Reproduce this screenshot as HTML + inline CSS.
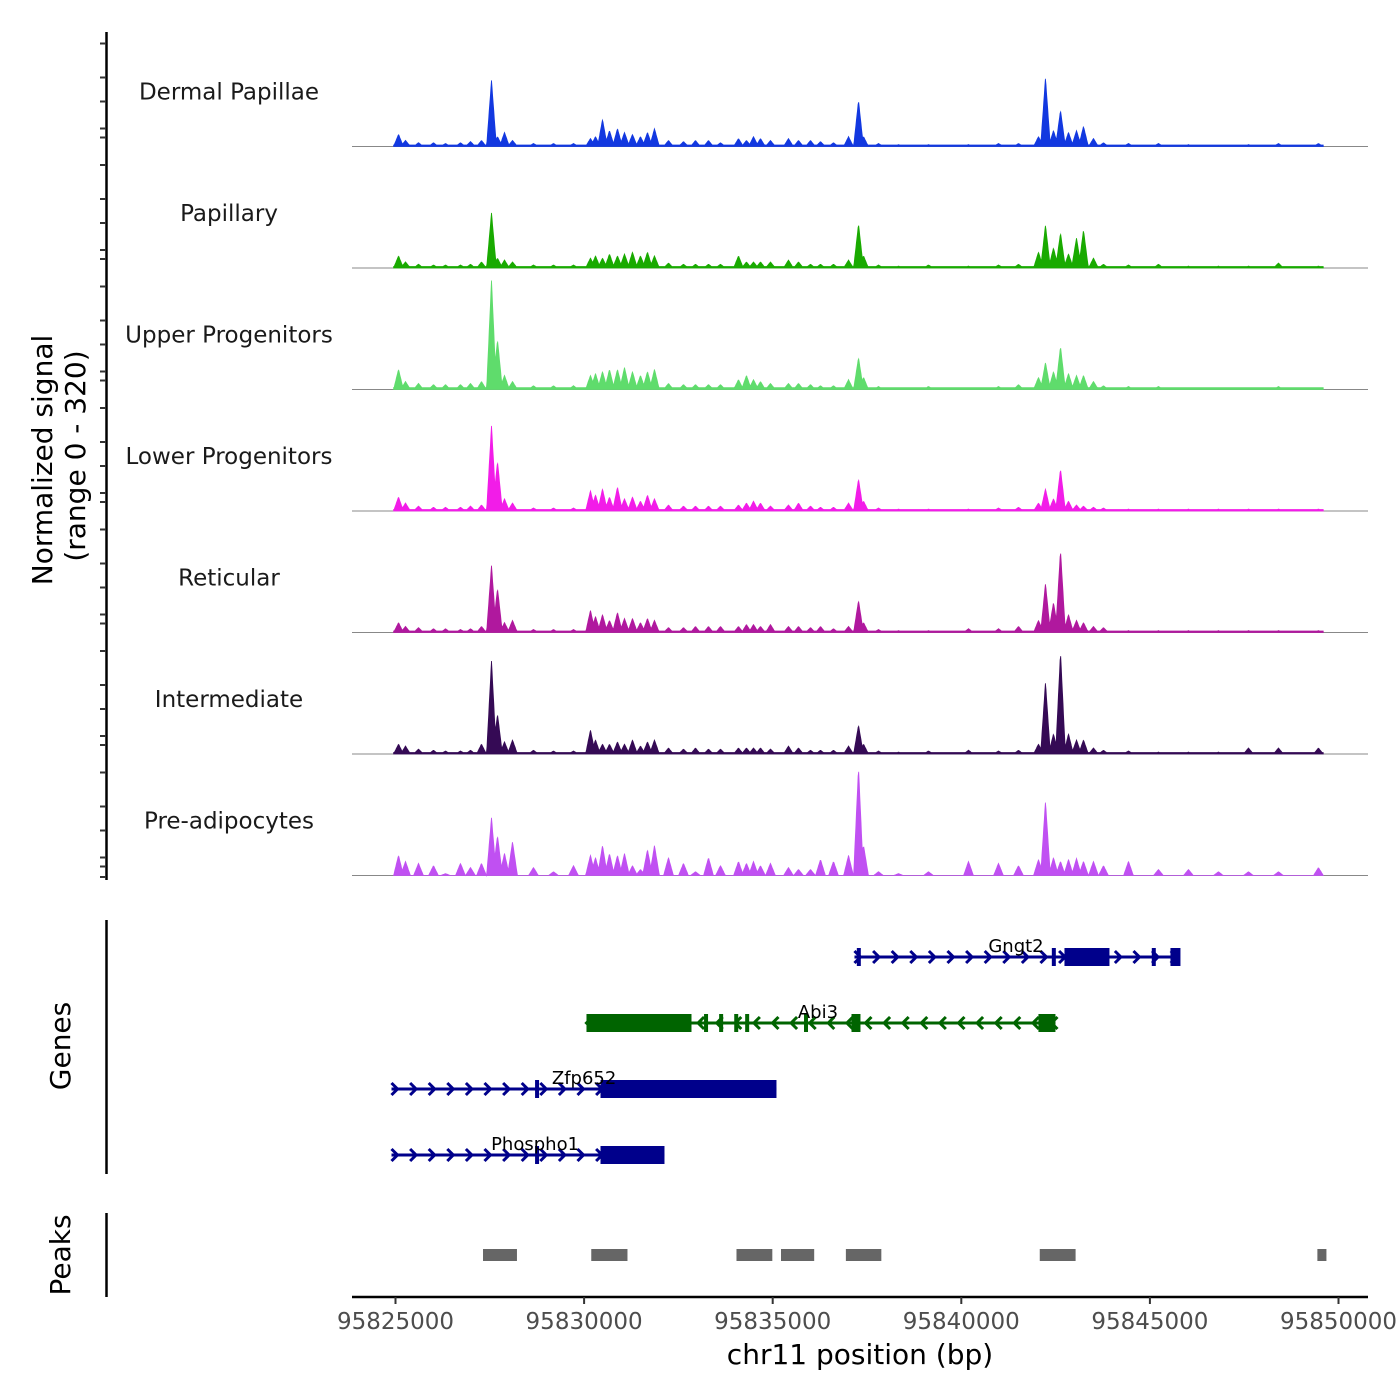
<!DOCTYPE html>
<html><head><meta charset="utf-8"><style>
html,body{margin:0;padding:0;background:#fff}
svg{display:block;font-family:"DejaVu Sans","Liberation Sans",sans-serif}
</style></head><body>
<svg id="chart" width="1400" height="1400" viewBox="0 0 1400 1400" xmlns="http://www.w3.org/2000/svg">
<rect width="1400" height="1400" fill="#fff"/>
<g id="tracks"></g>
<g id="leftaxis"></g>
<g id="genes"></g>
<g id="peaks"></g>
<g id="xaxis"></g>
<text x="0" y="0" transform="translate(52,460) rotate(-90)" text-anchor="middle" font-size="28" fill="#000">Normalized signal</text>
<text x="0" y="0" transform="translate(85,456) rotate(-90)" text-anchor="middle" font-size="28" fill="#000">(range 0 - 320)</text>
<text x="0" y="0" transform="translate(70,1046) rotate(-90)" text-anchor="middle" font-size="28" fill="#000">Genes</text>
<text x="0" y="0" transform="translate(70,1255) rotate(-90)" text-anchor="middle" font-size="28" fill="#000">Peaks</text>
<text x="860" y="1364" text-anchor="middle" font-size="28" fill="#000">chr11 position (bp)</text>
</svg>
<script>
const trackNames = ["Dermal Papillae","Papillary","Upper Progenitors","Lower Progenitors","Reticular","Intermediate","Pre-adipocytes"];
const trackColors = ["#1238E0","#19AA00","#5FDC6C","#F21CE8","#B0189E","#350A55","#C050F2"];
const bgLevel = [4,4,5,4,4,4,0];
const peakPos = [95825080,95825265,95825610,95826007,95826326,95826723,95826988,95827280,95827545,95827704,95827890,95828102,95828658,95829189,95829719,95830169,95830302,95830488,95830673,95830885,95831071,95831283,95831495,95831680,95831866,95832237,95832635,95832953,95833298,95833616,95834093,95834305,95834491,95834676,95834941,95835418,95835684,95836002,95836267,95836612,95837010,95837275,95837408,95837805,95838335,95839130,95840191,95840986,95841516,95842046,95842232,95842444,95842630,95842842,95843054,95843239,95843504,95843769,95844432,95845227,95846022,95846817,95847613,95848408,95849468];
const sigDermal = [32,16,10,10,8,10,13,16,174,26,37,16,8,8,8,21,26,71,42,47,37,32,26,37,47,16,13,16,16,10,21,16,26,21,16,21,16,16,13,10,26,121,26,8,5,5,5,8,8,26,181,42,95,37,42,53,21,10,8,8,5,3,5,8,8];
const sigPapillary = [32,16,10,8,8,8,10,16,145,26,21,16,8,8,8,26,32,26,37,32,37,42,32,42,32,13,10,10,10,10,32,16,16,16,16,21,16,10,10,10,21,116,32,8,5,8,5,8,10,42,113,53,92,37,79,100,26,10,8,10,5,5,5,13,5];
const sigUpper = [53,21,16,13,13,13,16,21,287,131,37,21,10,10,10,37,42,47,53,53,58,47,37,47,53,16,13,13,13,13,26,37,26,21,16,16,16,13,10,10,26,84,32,8,5,8,5,8,13,32,71,47,113,42,37,37,21,10,8,8,5,5,5,8,5];
const sigLower = [37,21,13,10,10,10,13,16,224,131,32,21,8,8,8,53,42,58,37,63,32,37,26,42,32,16,13,13,13,13,16,21,26,21,13,16,21,13,10,10,21,84,26,8,5,5,5,8,10,21,58,32,110,26,16,13,10,8,5,5,5,5,5,5,5];
const sigReticular = [26,16,13,10,10,8,10,16,176,116,26,32,8,8,8,58,42,47,32,53,37,37,26,37,32,13,13,16,16,16,16,21,21,16,21,16,16,13,16,10,16,84,26,8,5,5,10,10,16,32,129,79,216,47,32,26,16,13,5,5,5,5,5,5,5];
const sigIntermediate = [26,21,13,10,8,8,10,26,245,105,32,37,10,8,8,63,37,26,26,32,26,37,21,32,37,16,13,16,13,13,16,16,16,16,13,21,16,10,10,10,21,76,26,8,5,8,10,8,10,26,189,53,268,53,37,37,16,10,8,5,5,5,16,16,16];
const sigPreadip = [53,37,32,26,5,32,21,32,152,105,58,89,21,10,26,53,47,79,58,53,58,26,16,68,79,47,32,10,47,26,37,32,37,26,32,21,16,16,42,37,53,284,79,10,5,10,37,32,26,42,195,47,37,42,45,37,37,26,37,16,16,10,10,10,21];
const signals = [sigDermal,sigPapillary,sigUpper,sigLower,sigReticular,sigIntermediate,sigPreadip];
const xTicks = [95825000,95830000,95835000,95840000,95845000,95850000];
const geneNames = ["Gngt2","Abi3","Zfp652","Phospho1"];
const geneStarts = [95837168,95830063,95824894,95824894];
const geneEnds = [95845757,95842496,95835100,95832131];
const geneStrands = ["+","-","+","+"];
const geneColors = ["#00008B","#006400","#00008B","#00008B"];
const geneExons = [
 [[95837230,95837330],[95842400,95842490],[95842735,95843928],[95845050,95845140],[95845545,95845810]],
 [[95830063,95832847],[95833180,95833260],[95833580,95833660],[95833980,95834060],[95834270,95834350],[95835830,95835910],[95837089,95837327],[95842045,95842496]],
 [[95828700,95828780],[95830435,95835100]],
 [[95828700,95828780],[95830435,95832131]]
];
const geneLabelPos = [95841450,95836200,95830000,95828700];
const peakStarts = [95827320,95830190,95834040,95835220,95836940,95842080,95849440];
const peakEnds = [95828220,95831150,95834990,95836100,95837880,95843030,95849680];

const NS="http://www.w3.org/2000/svg";
function mk(tag,attrs,parent){const e=document.createElementNS(NS,tag);for(const k in attrs)e.setAttribute(k,attrs[k]);parent.appendChild(e);return e;}
const X0=95825000, PX0=395.5, PXPER=943/25000;
function xs(bp){return PX0+(bp-X0)*PXPER;}
const trackH=121.5, base0=146.5, YMAX=320;
function ys(v,i){return base0+i*trackH - v/YMAX*trackH;}

const tracks=document.getElementById('tracks');
const W=130;
for(let i=0;i<signals.length;i++){
  const g=mk('g',{},tracks);
  
  
  const base=base0+i*trackH;
  mk('line',{x1:352,x2:1368,y1:base,y2:base,stroke:'#888','stroke-width':1},g);
  const vals=signals[i];
  const lo=peakPos[0]-W, hi=peakPos[peakPos.length-1]+W;
  let d='M'+xs(lo).toFixed(1)+','+base;
  for(let bp=lo;bp<=hi;bp+=15){
    let v=bgLevel[i];
    for(let k=0;k<peakPos.length;k++){const dd=Math.abs(bp-peakPos[k]);if(dd<W){v=Math.max(v,vals[k]*(1-dd/W));}}
    d+=' L'+xs(bp).toFixed(1)+','+ys(v,i).toFixed(1);
  }
  d+=' L'+xs(hi).toFixed(1)+','+base+' Z';
  const p=mk('path',{d:d,fill:trackColors[i],stroke:trackColors[i],'stroke-width':0.8},g);
  
  
  const t=mk('text',{x:229,y:base-47,'text-anchor':'middle','font-size':23,fill:'#1a1a1a'},g);
  t.textContent=trackNames[i];
  
  
}

const la=document.getElementById('leftaxis');
mk('line',{x1:106.5,x2:106.5,y1:32,y2:880,stroke:'#000','stroke-width':2.5},la);
const tickOffs=[18.5,52.5,76.5,103.5,112.5];
for(let i=0;i<7;i++){const top=base0+(i-1)*trackH;for(const o of tickOffs){const y=top+o;if(y>878)continue;mk('line',{x1:100,x2:106,y1:y,y2:y,stroke:'#333','stroke-width':2},la);}}
mk('line',{x1:100,x2:106,y1:877,y2:877,stroke:'#333','stroke-width':2},la);
mk('line',{x1:106.5,x2:106.5,y1:920,y2:1174,stroke:'#000','stroke-width':2.5},la);
mk('line',{x1:106.5,x2:106.5,y1:1213,y2:1297,stroke:'#000','stroke-width':2.5},la);

const gg=document.getElementById('genes');
const rowY=[957,1023,1089,1155];
for(let i=0;i<geneNames.length;i++){
  const g=mk('g',{},gg);
  
  
  const y=rowY[i], c=geneColors[i];
  const x1=xs(geneStarts[i]), x2=xs(geneEnds[i]);
  mk('line',{x1:x1,x2:x2,y1:y,y2:y,stroke:c,'stroke-width':3},g);
  const dir=geneStrands[i]==='+'?1:-1;
  for(let x=x1+3;x<=x2;x+=18.6){
    mk('polyline',{points:`${x-3*dir},${y-6} ${x+3*dir},${y} ${x-3*dir},${y+6}`,fill:'none',stroke:c,'stroke-width':3},g);
  }
  for(const ex of geneExons[i]){
    const a=xs(ex[0]), b=xs(ex[1]);
    mk('rect',{x:a,y:y-9,width:Math.max(4,b-a),height:18,fill:c},g);
  }
  const t=mk('text',{x:xs(geneLabelPos[i]),y:y-5,'text-anchor':'middle','font-size':18,fill:'#000'},g);
  t.textContent=geneNames[i];
  
  
}

const pg=document.getElementById('peaks');
for(let i=0;i<peakStarts.length;i++){
  const r=mk('rect',{x:xs(peakStarts[i]),y:1249,width:xs(peakEnds[i])-xs(peakStarts[i]),height:12,fill:'#666'},pg);
  
  
}

const xa=document.getElementById('xaxis');
mk('line',{x1:352,x2:1368,y1:1297,y2:1297,stroke:'#000','stroke-width':2.5},xa);
for(const v of xTicks){
  const x=xs(v);
  mk('line',{x1:x,x2:x,y1:1297,y2:1304,stroke:'#333','stroke-width':2},xa);
  const t=mk('text',{x:x,y:1329,'text-anchor':'middle','font-size':23,fill:'#4d4d4d'},xa);
  t.textContent=String(v);
  
  
}
</script>
</body></html>
